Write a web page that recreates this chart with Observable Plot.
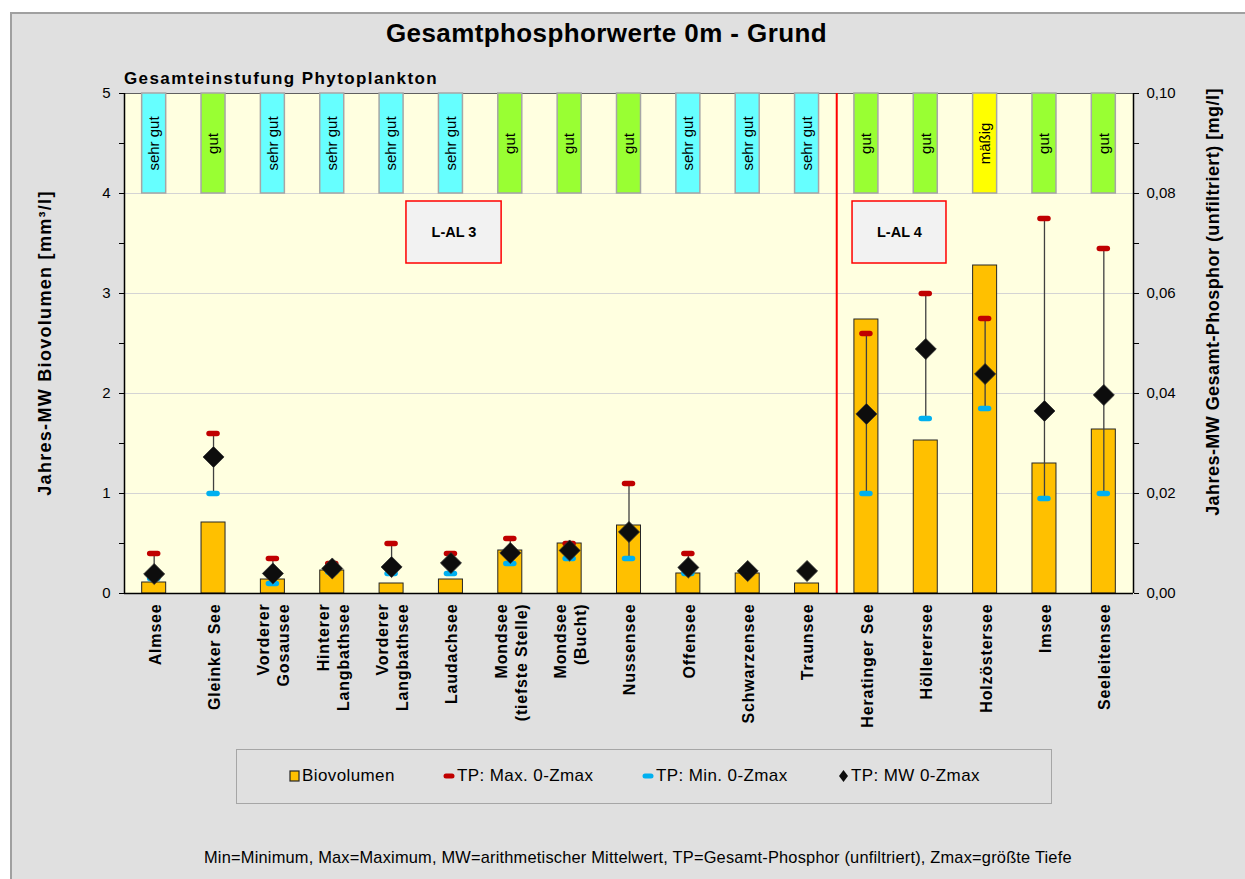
<!DOCTYPE html>
<html><head><meta charset="utf-8">
<script src="https://cdn.jsdelivr.net/npm/d3@7"></script>
<script src="https://cdn.jsdelivr.net/npm/@observablehq/plot@0.6"></script>
<style>
body{margin:0;background:#fff;font-family:"Liberation Sans",Arial,sans-serif;color:#000;}
#page{position:relative;width:1245px;height:879px;overflow:hidden;}
#bg{position:absolute;left:10px;top:12px;width:1235px;height:867px;background:#E0E0E0;border-left:2px solid #A0A0A0;border-top:2px solid #A0A0A0;box-sizing:border-box;}
#title{position:absolute;left:0;top:18px;width:1213px;text-align:center;font-weight:bold;font-size:26px;letter-spacing:0.4px;white-space:nowrap;}
#subtitle{position:absolute;left:124px;top:69px;font-weight:bold;font-size:17px;letter-spacing:1.4px;white-space:nowrap;}
#chart{position:absolute;left:0;top:83px;}
.ylab{position:absolute;font-weight:bold;font-size:18px;white-space:nowrap;transform:translate(-50%,-50%) rotate(-90deg);}
#ylabL{left:45px;top:343px;letter-spacing:1.3px;}
#ylabR{left:1213px;top:302px;letter-spacing:0.45px;}
#legend{position:absolute;left:236px;top:749px;width:816px;height:55px;border:1.5px solid #A6A6A6;box-sizing:border-box;}
.li{position:absolute;top:0;height:52px;display:flex;align-items:center;font-size:17px;letter-spacing:0.4px;white-space:nowrap;}
.li svg{margin-right:2px;}
#foot{position:absolute;left:204px;top:848px;font-size:16.4px;letter-spacing:0.2px;white-space:nowrap;}
svg text{font-family:"Liberation Sans",Arial,sans-serif;}
g[aria-label="x-axis tick label"] text{letter-spacing:0.8px;}
</style>
</head><body>
<div id="page">
<div id="bg"></div>
<div id="title">Gesamtphosphorwerte 0m - Grund</div>
<div id="subtitle">Gesamteinstufung Phytoplankton</div>
<div id="chart"></div>
<div class="ylab" id="ylabL">Jahres-MW Biovolumen [mm³/l]</div>
<div class="ylab" id="ylabR">Jahres-MW Gesamt-Phosphor (unfiltriert) [mg/l]</div>
<div id="legend"></div>
<div id="foot">Min=Minimum, Max=Maximum, MW=arithmetischer Mittelwert, TP=Gesamt-Phosphor (unfiltriert), Zmax=größte Tiefe</div>
</div>
<script>
// ---- data ----
const names = ["Almsee","Gleinker See","Vorderer\nGosausee","Hinterer\nLangbathsee","Vorderer\nLangbathsee","Laudachsee","Mondsee\n(tiefste Stelle)","Mondsee\n(Bucht)","Nussensee","Offensee","Schwarzensee","Traunsee","Heratinger See","Höllerersee","Holzöstersee","Imsee","Seeleitensee"];
const biovolumen = [0.11,0.71,0.14,0.23,0.10,0.14,0.43,0.50,0.68,0.20,0.20,0.10,2.74,1.53,3.28,1.30,1.64];
const tpMax = [0.008,0.032,0.007,0.006,0.010,0.008,0.011,0.010,0.022,0.008,null,null,0.052,0.060,0.055,0.075,0.069];
const tpMin = [0.003,0.020,0.002,0.0043,0.004,0.004,0.006,0.007,0.007,0.004,null,null,0.020,0.035,0.037,0.019,0.020];
const tpMW = [0.0039,0.0273,0.0040,0.0050,0.0053,0.0061,0.0081,0.0086,0.0123,0.0052,0.0045,0.0045,0.0359,0.0489,0.0439,0.0365,0.0397];
const classes = ["sehr gut","gut","sehr gut","sehr gut","sehr gut","sehr gut","gut","gut","gut","sehr gut","sehr gut","sehr gut","gut","gut","mäßig","gut","gut"];
const classNames = ["sehr gut","gut","mäßig"];
const classColors = ["#66FFFF","#99FF33","#FFFF00"];
const groups = ["L-AL 3","L-AL 4"];
const groupAt = ["Laudachsee","Heratinger See"];
const leftTicks = [0,0.5,1,1.5,2,2.5,3,3.5,4,4.5,5];
const rightTickLabels = ["0,00","0,02","0,04","0,06","0,08","0,10"];
const legendItems = ["Biovolumen","TP: Max. 0-Zmax","TP: Min. 0-Zmax","TP: MW 0-Zmax"];

// ---- build ----
const k = 50; // mg/l -> left axis units (0.10 mg/l == 5)
const rows = names.map((n,i)=>({name:n, bio:biovolumen[i], cls:classes[i], max:tpMax[i], min:tpMin[i], mw:tpMW[i]}));
const W=1245, H=650, mL=124, mR=112, mT=10, mB=140;
const bw = (W-mL-mR)/names.length;
const barInset = (bw-24)/2;
const tickInset = (bw-8)/2;
const clsColor = c => classColors[classNames.indexOf(c)];
const withRange = rows.filter(d=>d.max!=null && d.min!=null);

const plot = Plot.plot({
  width:W, height:H, marginLeft:mL, marginRight:mR, marginTop:mT, marginBottom:mB,
  style:{background:"transparent", fontFamily:"Liberation Sans, Arial, sans-serif", fontSize:"15px", color:"#000", overflow:"visible"},
  x:{domain:names, padding:0, round:false, label:null},
  y:{domain:[0,5], label:null},
  marks:[
    Plot.frame({fill:"#FFFFE0", stroke:"none"}),
    Plot.gridY([1,2,3,4], {stroke:"#D4D4D4", strokeOpacity:1, strokeWidth:1.2}),
    Plot.ruleY([5], {stroke:"#606060", strokeWidth:1}),
    // phytoplankton classification boxes
    Plot.barY(rows, {x:"name", y1:4, y2:5, fill:d=>clsColor(d.cls), stroke:"#A6A6A6", strokeWidth:1.5, insetLeft:barInset, insetRight:barInset}),
    Plot.text(rows, {x:"name", y:4.5, text:"cls", rotate:-90, fontSize:15, fill:"#000"}),
    // separator
    Plot.ruleX([groupAt[1]], {y1:0, y2:5, dx:-bw/2, stroke:"#FF0000", strokeWidth:2}),
    // group label boxes
    Plot.barY([groupAt[0]], {x:d=>d, y1:3.3, y2:3.92, fill:"#F2F2F2", stroke:"#FF0000", strokeWidth:1.5, insetLeft:-14.8, insetRight:-21}),
    Plot.barY([groupAt[1]], {x:d=>d, y1:3.3, y2:3.92, fill:"#F2F2F2", stroke:"#FF0000", strokeWidth:1.5, insetLeft:15.8, insetRight:-50.4}),
    Plot.text([0], {x:()=>groupAt[0], y:3.61, text:()=>groups[0], dx:3, fontSize:14.5, fontWeight:"bold", fill:"#000"}),
    Plot.text([1], {x:()=>groupAt[1], y:3.61, text:()=>groups[1], dx:33, fontSize:14.5, fontWeight:"bold", fill:"#000"}),
    // biovolume bars
    Plot.barY(rows, {x:"name", y:"bio", fill:"#FFC000", stroke:"#262626", strokeWidth:1, insetLeft:barInset, insetRight:barInset}),
    // TP ranges
    Plot.ruleX(withRange, {x:"name", y1:d=>d.min*k, y2:d=>d.max*k, stroke:"#404040", strokeWidth:1.3}),
    Plot.tickY(withRange, {x:"name", y:d=>d.max*k, stroke:"#C00000", strokeWidth:5.5, strokeLinecap:"round", insetLeft:tickInset, insetRight:tickInset}),
    Plot.tickY(withRange, {x:"name", y:d=>d.min*k, stroke:"#00B0F0", strokeWidth:5.5, strokeLinecap:"round", insetLeft:tickInset, insetRight:tickInset}),
    Plot.dot(rows, {x:"name", y:d=>d.mw*k, symbol:"diamond2", r:9.5, fill:"#0D0D0D", stroke:"#333", strokeWidth:0.8}),
    // frame lines
    Plot.ruleX([names[0]], {y1:0, y2:5, dx:-bw/2, stroke:"#000", strokeWidth:1.5}),
    Plot.ruleX([names[names.length-1]], {y1:0, y2:5, dx:bw/2, stroke:"#000", strokeWidth:1.5}),
    Plot.ruleY([0], {stroke:"#000", strokeWidth:1.5}),
    // axes
    Plot.axisY({ticks:leftTicks, tickSize:5, tickPadding:9, tickFormat:d=>Number.isInteger(d)?String(d):"", label:null, fontSize:15, stroke:"#000"}),
    Plot.axisY({anchor:"right", ticks:leftTicks, tickSize:5, tickPadding:8, tickFormat:d=>Number.isInteger(d)?rightTickLabels[d]:"", label:null, fontSize:15, stroke:"#000"}),
    Plot.axisX({tickRotate:-90, tickSize:0, tickPadding:10, fontSize:16, fontWeight:"bold", lineHeight:1.25, label:null})
  ]
});
document.getElementById("chart").appendChild(plot);

// ---- legend ----
const lg = document.getElementById("legend");
const lgLeft = [52,206,405,601];
const swatches = [
  '<svg width="11" height="12"><rect x="1" y="1" width="9" height="10" fill="#FFC000" stroke="#262626" stroke-width="1.2"/></svg>',
  '<svg width="12" height="8"><line x1="3" y1="4" x2="9" y2="4" stroke="#C00000" stroke-width="5" stroke-linecap="round"/></svg>',
  '<svg width="12" height="8"><line x1="3" y1="4" x2="9" y2="4" stroke="#00B0F0" stroke-width="5" stroke-linecap="round"/></svg>',
  '<svg width="11" height="14"><path d="M5.5,1 L10,7 L5.5,13 L1,7Z" fill="#0D0D0D"/></svg>'
];
legendItems.forEach((t,i)=>{
  const d=document.createElement("div");
  d.className="li"; d.style.left=lgLeft[i]+"px";
  d.innerHTML=swatches[i]+"<span>"+t+"</span>";
  lg.appendChild(d);
});
</script>
</body></html>
